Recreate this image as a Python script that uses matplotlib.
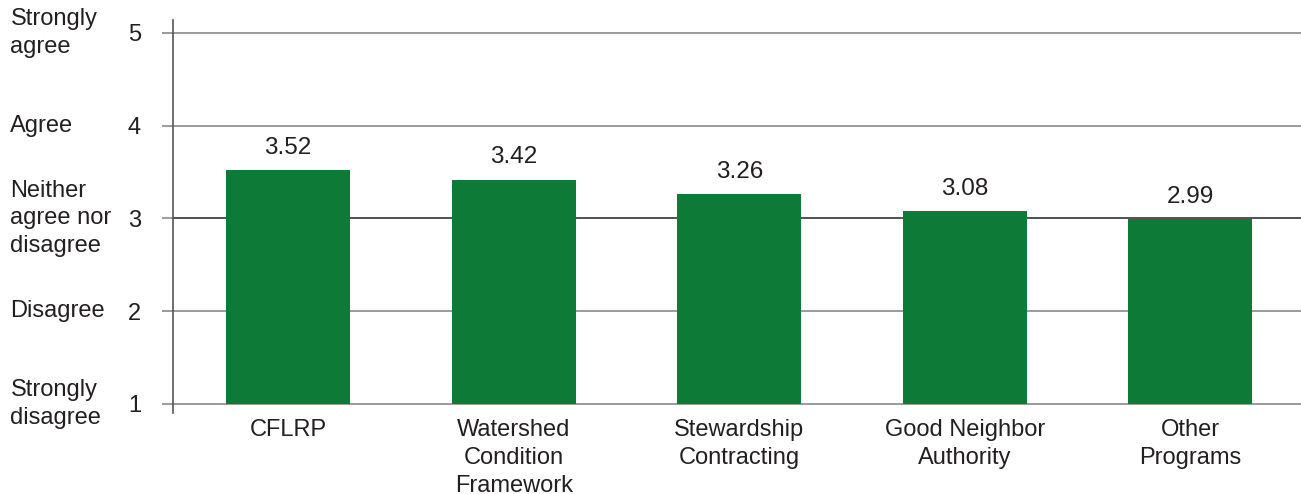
import matplotlib
matplotlib.use("Agg")
from matplotlib import pyplot as plt
from matplotlib import transforms

plt.rcParams['font.family'] = ['Liberation Sans', 'DejaVu Sans']

# data
programs = ["CFLRP", "Watershed\nCondition\nFramework", "Stewardship\nContracting",
            "Good Neighbor\nAuthority", "Other\nPrograms"]
scores = [3.52, 3.42, 3.26, 3.08, 2.99]
scale_values = [1, 2, 3, 4, 5]
scale_names = ["Strongly\ndisagree", "Disagree", "Neither\nagree nor\ndisagree",
               "Agree", "Strongly\nagree"]

green = "#0e7a38"
text_col = "#231f20"
grid_col = "#8a8a8a"

fig, ax = plt.subplots(figsize=(13.01, 4.94), dpi=100)
fig.subplots_adjust(left=0.133, right=1.0, top=0.9595, bottom=0.164)

x = list(range(len(programs)))
base = 1
bars = ax.bar(x, [s - base for s in scores], bottom=base, width=0.55,
              color=green, zorder=3)

for xi, s in zip(x, scores):
    ax.annotate("%.2f" % s, (xi, s), xytext=(0, 8), textcoords="offset points",
                ha="center", va="bottom", fontsize=17.5, color=text_col)

# horizontal grid lines at each scale value
for v in scale_values:
    col = "#333333" if v == 3 else grid_col
    ax.axhline(v, color=col, lw=1.2, zorder=2)

ax.set_xlim(-0.51, 4.49)
ax.set_ylim(0.903, 5.14)
ax.set_yticks(scale_values)
ax.set_yticklabels([str(v) for v in scale_values], fontsize=17, color=text_col)
ax.tick_params(axis="y", length=8, width=1.2, color=grid_col, pad=15)
ax.set_xticks(x)
ax.set_xticklabels(programs, fontsize=17, color=text_col, linespacing=1.38)
ax.tick_params(axis="x", length=0, pad=4)

for side in ["top", "right", "bottom"]:
    ax.spines[side].set_visible(False)
ax.spines["left"].set_color("#555555")
ax.spines["left"].set_linewidth(1.2)

# verbal scale names on the far left
trans = transforms.blended_transform_factory(fig.transFigure, ax.transData)
for v, name in zip(scale_values, scale_names):
    ax.text(0.008, v, name, transform=trans, ha="left", va="center",
            fontsize=17, color=text_col, linespacing=1.32)

fig.savefig("out.png", dpi=100)
